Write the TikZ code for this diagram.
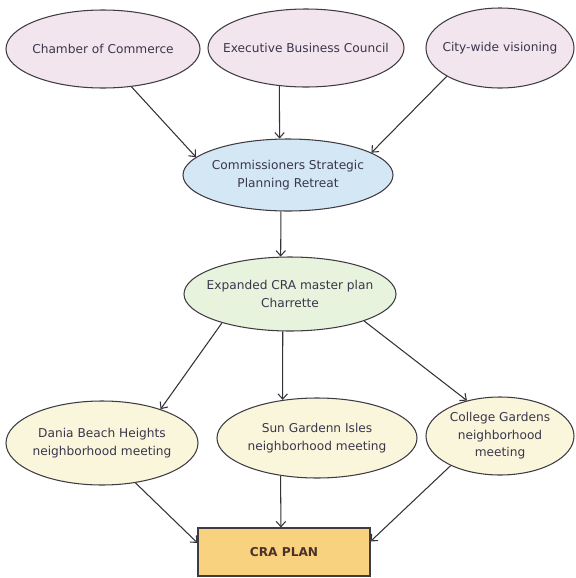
\documentclass[tikz,border=0pt]{standalone}
\usepackage{fontspec}
\setmainfont{DejaVu Sans}
\usetikzlibrary{shapes,arrows.meta}
\pgfdeclarelayer{bg}
\pgfsetlayers{bg,main}
\def\gprgb#1#2#3{rgb,255:red,#1;green,#2;blue,#3}

\tikzset{
  bubble/.style={shape=ellipse,draw=\gprgb{62}{60}{66},line width=0.9pt,inner xsep=-12pt,inner ysep=-8pt,align=center,text=\gprgb{58}{54}{76},font=\fontsize{10.4}{15}\selectfont},
  plan/.style={shape=rectangle,draw=\gprgb{62}{60}{66},line width=0.9pt,fill=\gprgb{248}{210}{126},text=\gprgb{74}{50}{40},font=\fontsize{10.4}{15}\selectfont\bfseries},
  flow/.style={-{Straight Barb[length=4.5pt,width=8pt]},color=\gprgb{50}{50}{56},line width=0.9pt},
}

\begin{document}
\begin{tikzpicture}[x=0.03cm,y=-0.03cm]
\useasboundingbox (0,0) rectangle (575,578);

% Draw the nodes...
\node (chamber) at (103, 49) [bubble,fill=\gprgb{243}{229}{237},minimum width=5.82cm,minimum height=2.34cm] {Chamber of Commerce};
\node (exec) at (306, 48) [bubble,fill=\gprgb{243}{229}{237},minimum width=5.88cm,minimum height=2.34cm] {Executive Business Council};
\node (city) at (500, 48) [bubble,fill=\gprgb{243}{229}{237},minimum width=4.44cm,minimum height=2.40cm] {City-wide visioning};
\node (comm) at (288, 175) [bubble,fill=\gprgb{212}{231}{245},minimum width=6.30cm,minimum height=2.16cm] {Commissioners Strategic\\Planning Retreat};
\node (exp) at (290, 294) [bubble,fill=\gprgb{231}{243}{221},minimum width=6.36cm,minimum height=2.22cm] {Expanded CRA master plan\\Charrette};
\node (dania) at (102, 443) [bubble,fill=\gprgb{249}{246}{220},minimum width=5.76cm,minimum height=2.52cm] {Dania Beach Heights\\neighborhood meeting};
\node (sun) at (317, 438) [bubble,fill=\gprgb{249}{246}{220},minimum width=6.00cm,minimum height=2.40cm] {Sun Gardenn Isles\\neighborhood meeting};
\node (college) at (500, 436) [bubble,fill=\gprgb{249}{246}{220},minimum width=4.44cm,minimum height=2.34cm] {College Gardens\\neighborhood\\meeting};
\node (cra) at (284, 552) [plan,minimum width=5.16cm,minimum height=1.44cm] {CRA PLAN};


% Draw the edges...
\begin{pgfonlayer}{bg}
\draw (chamber.-53) edge[flow] (comm.169);
\draw (exec.-125) edge[flow] (comm.103);
\draw (city.-152) edge[flow] (comm.15);
\draw (comm.-101) edge[flow] (exp.104);
\draw (exp.-157) edge[flow] (dania.30);
\draw (exp.-101) edge[flow] (sun.132);
\draw (exp.-20) edge[flow] (college.133);
\draw (dania.-50) edge[flow] (cra.174);
\draw (sun.-134) edge[flow] (cra.97);
\draw (college.-149) edge[flow] (cra.7);

\end{pgfonlayer}

\end{tikzpicture}
\end{document}
